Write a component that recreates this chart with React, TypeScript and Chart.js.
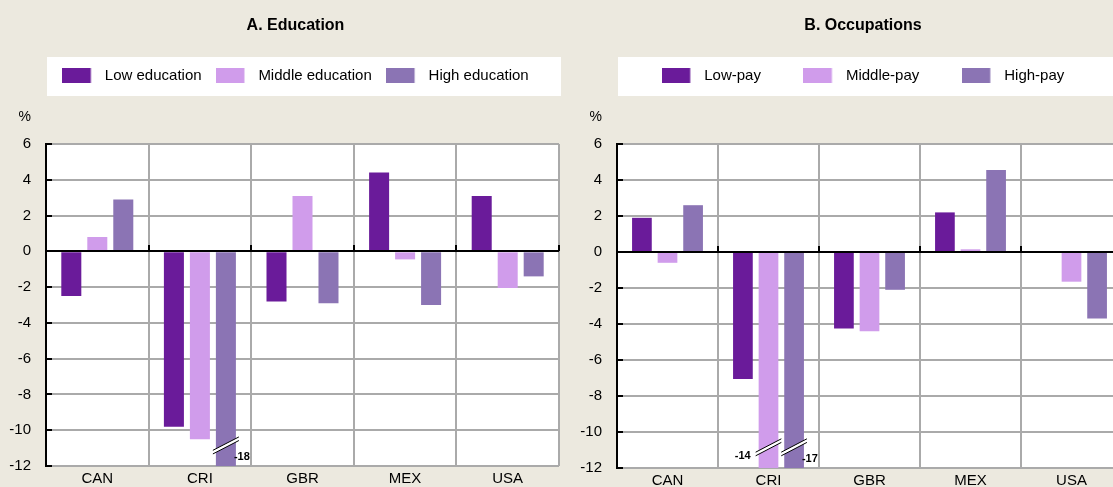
import React, { useEffect, useRef } from 'react';
import { Chart, registerables } from 'chart.js';

Chart.register(...registerables);

// ---------- data ----------
const categories = ['CAN', 'CRI', 'GBR', 'MEX', 'USA'];

const eduTitle = 'A. Education';
const eduSeriesLabels = ['Low education', 'Middle education', 'High education'];
const eduLow = [-2.5, -9.8, -2.8, 4.4, 3.1];
const eduMiddle = [0.8, -10.5, 3.1, -0.45, -2.05];
const eduHigh = [2.9, -18, -2.9, -3.0, -1.4];

const occTitle = 'B. Occupations';
const occSeriesLabels = ['Low-pay', 'Middle-pay', 'High-pay'];
const occLow = [1.9, -7.05, -4.25, 2.2, 0];
const occMiddle = [-0.6, -14, -4.4, 0.15, -1.65];
const occHigh = [2.6, -17, -2.1, 4.55, -3.7];

const yMin = -12;
const yMax = 6;
const yStep = 2;
const yUnit = '%';

// ---------- styles ----------
const FONT = "'Liberation Sans', Arial, sans-serif";
const BG = '#ECE9DF';
const GRID = '#AAAAAA';
const COLORS = ['#6A1B9A', '#D09CEB', '#8B74B4'];
const LEGEND_FONT = 15;

const alignPx = (p: number) => Math.round(p - 1) + 1;

const decorPlugin = {
  id: 'panelDecor',
  beforeDraw(chart: any) {
    const { ctx, chartArea: a } = chart;
    ctx.save();
    ctx.fillStyle = '#ffffff';
    ctx.fillRect(a.left, a.top, a.right - a.left, a.bottom - a.top);
    const lg = chart.legend;
    const cy = lg.top + lg.options.labels.padding + LEGEND_FONT / 2;
    ctx.fillRect(a.left + 1, cy - 18.5, a.right - a.left + 1, 39);
    ctx.restore();
  },
  afterDatasetsDraw(chart: any, _args: any, opts: any) {
    const { ctx, chartArea: a, scales } = chart;
    const y = scales.y;
    const x = scales.x;
    ctx.save();
    ctx.strokeStyle = '#000';
    ctx.lineWidth = 2;
    // zero line
    const y0 = alignPx(y.getPixelForValue(0));
    ctx.beginPath();
    ctx.moveTo(a.left, y0);
    ctx.lineTo(a.right, y0);
    ctx.stroke();
    // category ticks on zero line (inside, upward)
    for (let i = 1; i <= chart.data.labels.length; i++) {
      const bx = alignPx(x.getPixelForValue(i - 0.5));
      ctx.beginPath();
      ctx.moveTo(bx, y0 - 6);
      ctx.lineTo(bx, y0);
      ctx.stroke();
    }
    // inside ticks on value axis
    y.ticks.forEach((t: any) => {
      const py = alignPx(y.getPixelForValue(t.value));
      ctx.beginPath();
      ctx.moveTo(a.left, py);
      ctx.lineTo(a.left + 6, py);
      ctx.stroke();
    });
    // axis breaks for values beyond the scale
    (opts.breaks || []).forEach((b: any) => {
      const bar = chart.getDatasetMeta(b.ds).data[b.idx];
      const value = chart.data.datasets[b.ds].data[b.idx];
      const { x: bxc, width: bw } = bar.getProps(['x', 'width'], true);
      const cy = y.getPixelForValue(opts.breakAt);
      const hx = bw / 2 + 3;
      const hy = 6.7;
      const d = 1.8;
      ctx.fillStyle = '#ffffff';
      ctx.beginPath();
      ctx.moveTo(bxc - hx, cy + hy - d);
      ctx.lineTo(bxc + hx, cy - hy - d);
      ctx.lineTo(bxc + hx, cy - hy + d);
      ctx.lineTo(bxc - hx, cy + hy + d);
      ctx.closePath();
      ctx.fill();
      ctx.lineWidth = 1;
      ctx.strokeStyle = '#000';
      [-d, d].forEach((off) => {
        ctx.beginPath();
        ctx.moveTo(bxc - hx, cy + hy + off);
        ctx.lineTo(bxc + hx, cy - hy + off);
        ctx.stroke();
      });
      ctx.fillStyle = '#000';
      ctx.font = `bold 11px ${FONT}`;
      ctx.textBaseline = 'middle';
      if (b.side === 'left') {
        ctx.textAlign = 'right';
        ctx.fillText(String(value), bxc - bw / 2 - 8, a.bottom - 12);
      } else {
        ctx.textAlign = 'left';
        ctx.fillText(String(value), bxc + bw / 2 - 2, a.bottom - 9);
      }
    });
    ctx.restore();
  },
  afterDraw(chart: any) {
    const { ctx, chartArea: a } = chart;
    ctx.save();
    ctx.fillStyle = '#000';
    ctx.font = `14px ${FONT}`;
    ctx.textAlign = 'right';
    ctx.textBaseline = 'middle';
    ctx.fillText(yUnit, a.left - 15, a.top - 27);
    ctx.restore();
  },
};

type PanelProps = {
  title: string;
  seriesLabels: string[];
  series: number[][];
  left: number;
  width: number;
  height: number;
  legendPad: number;
  titleBottom: number;
  rightGap: number;
  breaks: { ds: number; idx: number; side: string }[];
};

function Panel(p: PanelProps) {
  const ref = useRef<HTMLCanvasElement | null>(null);
  useEffect(() => {
    if (!ref.current) return;
    const swatches = COLORS.map((c) => {
      const cv = document.createElement('canvas');
      cv.width = 35;
      cv.height = 15;
      const g = cv.getContext('2d')!;
      g.fillStyle = c;
      g.fillRect(0, 0, 28.5, 15);
      return cv;
    });
    const tickFont = { family: FONT, size: 15 };
    const chart = new Chart(ref.current, {
      type: 'bar',
      data: {
        labels: categories,
        datasets: p.series.map((d, i) => ({
          label: p.seriesLabels[i],
          data: d,
          backgroundColor: COLORS[i],
          borderWidth: 0,
          categoryPercentage: 0.76,
          barPercentage: 0.77,
          xAxisID: 'x',
          yAxisID: 'y',
        })),
      },
      options: {
        responsive: false,
        animation: false,
        events: [],
        layout: { padding: 0 },
        plugins: {
          title: {
            display: true,
            text: p.title,
            color: '#000',
            font: { family: FONT, size: 16, weight: 'bold', lineHeight: 1.2 },
            padding: { top: 16.2, bottom: p.titleBottom },
          },
          legend: {
            display: true,
            position: 'top',
            labels: {
              usePointStyle: true,
              pointStyleWidth: 35,
              boxHeight: LEGEND_FONT,
              color: '#000',
              font: { family: FONT, size: LEGEND_FONT },
              padding: p.legendPad,
              generateLabels: () =>
                p.seriesLabels.map((t, i) => ({
                  text: t,
                  fillStyle: COLORS[i],
                  strokeStyle: COLORS[i],
                  lineWidth: 0,
                  pointStyle: swatches[i],
                  hidden: false,
                  datasetIndex: i,
                })),
            },
          },
          tooltip: { enabled: false },
          panelDecor: { breaks: p.breaks, breakAt: -10.85 },
        } as any,
        scales: {
          x: {
            type: 'category',
            position: 'bottom',
            offset: true,
            grid: { display: true, offset: true, color: GRID, lineWidth: 2, drawTicks: false },
            border: { display: false },
            ticks: { color: '#000', font: tickFont, padding: 4, maxRotation: 0, autoSkip: false },
            afterFit: (s: any) => {
              s.height = 21;
            },
          },
          xTop: {
            type: 'linear',
            position: 'top',
            display: true,
            grid: { display: false, drawTicks: false },
            border: { display: false },
            ticks: { display: false },
            afterFit: (s: any) => {
              s.height = 51;
            },
          },
          y: {
            type: 'linear',
            position: 'left',
            min: yMin,
            max: yMax,
            ticks: { stepSize: yStep, color: '#000', font: tickFont, padding: 15 },
            grid: { color: GRID, lineWidth: 2, drawTicks: false },
            border: { color: '#000', width: 2 },
            afterFit: (s: any) => {
              s.width = 46;
            },
          },
          yRight: {
            type: 'linear',
            position: 'right',
            display: true,
            grid: { display: false, drawTicks: false },
            border: { display: false },
            ticks: { display: false },
            afterFit: (s: any) => {
              s.width = p.rightGap;
            },
          },
        } as any,
      },
      plugins: [decorPlugin as any],
    });
    return () => chart.destroy();
  }, []);
  return (
    <canvas
      ref={ref}
      width={p.width}
      height={p.height}
      style={{ position: 'absolute', left: p.left, top: 0 }}
    />
  );
}

export default function App() {
  return (
    <div
      style={{
        position: 'fixed',
        left: 0,
        top: 0,
        width: 1113,
        height: 487,
        overflow: 'hidden',
        background: BG,
      }}
    >
      <Panel
        title={eduTitle}
        seriesLabels={eduSeriesLabels}
        series={[eduLow, eduMiddle, eduHigh]}
        left={0}
        width={591}
        height={490}
        legendPad={14.3}
        titleBottom={18.3}
        rightGap={32}
        breaks={[{ ds: 2, idx: 1, side: 'right' }]}
      />
      <Panel
        title={occTitle}
        seriesLabels={occSeriesLabels}
        series={[occLow, occMiddle, occHigh]}
        left={571}
        width={584}
        height={492}
        legendPad={42.5}
        titleBottom={-9.9}
        rightGap={33}
        breaks={[
          { ds: 1, idx: 1, side: 'left' },
          { ds: 2, idx: 1, side: 'right' },
        ]}
      />
    </div>
  );
}
